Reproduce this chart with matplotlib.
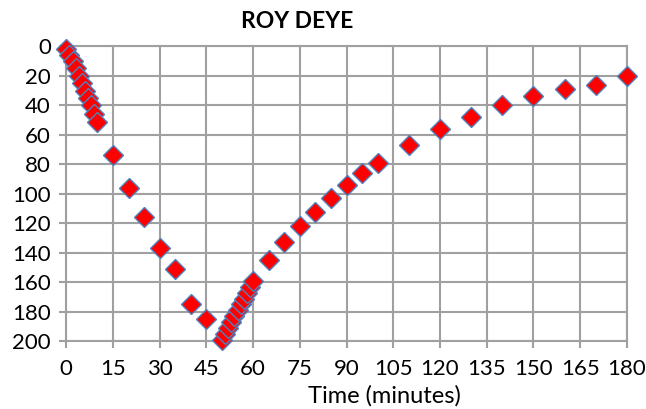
import matplotlib
matplotlib.use("Agg")
import matplotlib.pyplot as plt

# Data
time_min = [0, 1, 2, 3, 4, 5, 6, 7, 8, 9, 10,
            15, 20, 25, 30, 35, 40, 45,
            50, 51, 52, 53, 54, 55, 56, 57, 58, 59, 60,
            65, 70, 75, 80, 85, 90, 95, 100, 110, 120,
            130, 140, 150, 160, 170, 180]
depth = [2, 6, 10, 15, 20, 25, 30, 35, 40, 46, 51,
         74, 96, 116, 137, 151, 175, 185,
         199, 195, 191, 187, 183, 179, 175, 171, 167, 163, 159,
         145, 133, 122, 112, 103, 94, 86, 79, 67, 56,
         48, 40, 34, 29, 26, 20]

x_ticks = list(range(0, 181, 15))
y_ticks = list(range(0, 201, 20))
title = "ROY DEYE"
xlabel = "Time (minutes)"

plt.rcParams['font.family'] = ['Lato', 'DejaVu Sans']

fig = plt.figure(figsize=(6.46, 4.09), dpi=100)
ax = fig.add_axes([0.1026, 0.1655, 0.8677, 0.7213])

ax.plot(time_min, depth, linestyle='none', marker='D', markersize=10,
        markerfacecolor='#FF0000', markeredgecolor='#4F81BD',
        markeredgewidth=1.0, clip_on=False, zorder=3)

ax.set_xlim(0, 180)
ax.set_ylim(200, 0)
ax.set_xticks(x_ticks)
ax.set_yticks(y_ticks)
ax.grid(True, color='#A0A0A0', linewidth=1.5)
ax.set_axisbelow(True)
for s in ax.spines.values():
    s.set_color('#A0A0A0')
    s.set_linewidth(1.5)
ax.tick_params(axis='both', colors='#A0A0A0', length=5, width=1.5,
               labelcolor='black', labelsize=16)
ax.tick_params(axis='x', pad=8)
ax.tick_params(axis='y', pad=6)
fig.text(384 / 646, 1 - 396 / 409, xlabel, ha='center', va='center',
         fontsize=17)
fig.text(297 / 646, 1 - 22 / 409, title, ha='center', va='center',
         fontsize=16.5, fontweight='bold')

fig.savefig('out.png', dpi=100)
